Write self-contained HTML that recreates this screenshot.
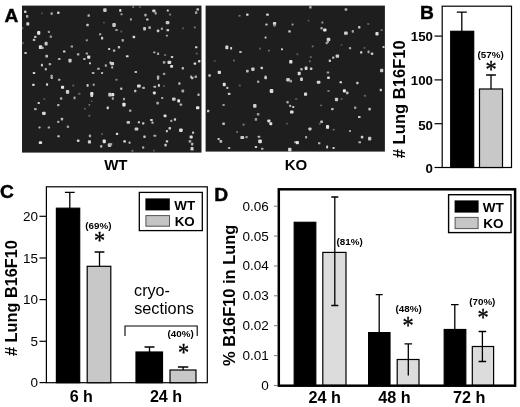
<!DOCTYPE html>
<html lang="en"><head><meta charset="utf-8"><title>Figure</title>
<style>
html,body{margin:0;padding:0;background:#fff;overflow:hidden;}
svg{display:block;will-change:transform;}
text{font-family:"Liberation Sans",Arial,Helvetica,sans-serif;fill:#000;}
.b{font-weight:bold;}
.s{font-family:"Liberation Serif","Times New Roman",serif;}
</style></head><body>
<svg width="520" height="407" viewBox="0 0 520 407">
<defs><filter id="bl" x="-5%" y="-5%" width="110%" height="110%"><feGaussianBlur stdDeviation="0.6"/></filter></defs>
<rect width="520" height="407" fill="#fff"/>
<text class="b" x="4.4" y="21.9" font-size="19.2" stroke="#000" stroke-width="0.45">A</text>
<rect x="22" y="5.6" width="179.5" height="147" fill="#1e1e1e"/>
<svg x="22" y="5.6" width="179.5" height="147" viewBox="22 5.6 179.5 147"><g filter="url(#bl)"><rect x="24.1" y="10.6" width="2.3" height="2.4" rx="0.62" fill="rgb(214,214,214)"/><rect x="26.0" y="15.1" width="2.3" height="2.7" rx="0.62" fill="rgb(179,179,179)"/><rect x="26.3" y="22.2" width="3.0" height="3.3" rx="0.82" fill="rgb(209,209,209)"/><rect x="41.1" y="12.4" width="1.7" height="1.9" rx="0.48" fill="rgb(85,85,85)"/><rect x="50.5" y="12.2" width="2.3" height="2.7" rx="0.64" fill="rgb(160,160,160)"/><rect x="57.1" y="11.6" width="2.4" height="2.3" rx="0.62" fill="rgb(212,212,212)"/><rect x="87.5" y="14.3" width="2.4" height="2.5" rx="0.67" fill="rgb(175,175,175)"/><rect x="103.2" y="8.3" width="3.4" height="3.6" rx="0.94" fill="rgb(202,202,202)"/><rect x="103.1" y="21.7" width="1.7" height="1.8" rx="0.48" fill="rgb(95,95,95)"/><rect x="86.3" y="23.7" width="2.4" height="2.6" rx="0.65" fill="rgb(196,196,196)"/><rect x="37.1" y="31.1" width="3.2" height="3.6" rx="0.89" fill="rgb(231,231,231)"/><rect x="47.9" y="30.8" width="2.1" height="2.2" rx="0.57" fill="rgb(155,155,155)"/><rect x="34.1" y="35.8" width="2.4" height="2.3" rx="0.64" fill="rgb(190,190,190)"/><rect x="49.7" y="35.4" width="2.2" height="2.4" rx="0.61" fill="rgb(165,165,165)"/><rect x="32.8" y="38.8" width="2.5" height="2.2" rx="0.60" fill="rgb(184,184,184)"/><rect x="99.0" y="33.3" width="2.3" height="1.9" rx="0.53" fill="rgb(168,168,168)"/><rect x="101.0" y="36.8" width="2.2" height="2.7" rx="0.61" fill="rgb(204,204,204)"/><rect x="85.8" y="39.3" width="2.0" height="1.9" rx="0.53" fill="rgb(155,155,155)"/><rect x="44.6" y="41.8" width="3.0" height="3.7" rx="0.83" fill="rgb(201,201,201)"/><rect x="38.9" y="45.3" width="3.3" height="3.8" rx="0.90" fill="rgb(223,223,223)"/><rect x="41.4" y="46.7" width="2.2" height="2.4" rx="0.61" fill="rgb(180,180,180)"/><rect x="70.6" y="45.4" width="2.5" height="2.1" rx="0.59" fill="rgb(166,166,166)"/><rect x="108.1" y="48.1" width="2.1" height="1.9" rx="0.53" fill="rgb(207,207,207)"/><rect x="24.3" y="52.0" width="2.5" height="2.0" rx="0.55" fill="rgb(186,186,186)"/><rect x="63.0" y="50.5" width="2.5" height="1.9" rx="0.53" fill="rgb(214,214,214)"/><rect x="76.9" y="53.3" width="2.5" height="2.1" rx="0.57" fill="rgb(179,179,179)"/><rect x="85.7" y="52.4" width="2.3" height="2.1" rx="0.57" fill="rgb(171,171,171)"/><rect x="87.1" y="55.5" width="3.2" height="3.2" rx="0.88" fill="rgb(223,223,223)"/><rect x="83.3" y="58.0" width="2.2" height="2.1" rx="0.58" fill="rgb(189,189,189)"/><rect x="45.4" y="54.8" width="2.6" height="2.8" rx="0.71" fill="rgb(193,193,193)"/><rect x="57.9" y="58.0" width="2.7" height="1.9" rx="0.53" fill="rgb(178,178,178)"/><rect x="68.4" y="58.7" width="3.2" height="3.7" rx="0.88" fill="rgb(204,204,204)"/><rect x="89.0" y="62.3" width="1.9" height="2.0" rx="0.53" fill="rgb(211,211,211)"/><rect x="40.9" y="63.8" width="2.1" height="2.6" rx="0.58" fill="rgb(197,197,197)"/><rect x="48.6" y="63.1" width="2.6" height="2.2" rx="0.62" fill="rgb(164,164,164)"/><rect x="44.8" y="68.0" width="2.0" height="2.4" rx="0.54" fill="rgb(186,186,186)"/><rect x="109.5" y="61.6" width="1.9" height="2.2" rx="0.53" fill="rgb(213,213,213)"/><rect x="104.8" y="64.3" width="2.0" height="2.4" rx="0.55" fill="rgb(172,172,172)"/><rect x="97.1" y="67.7" width="2.6" height="2.1" rx="0.57" fill="rgb(174,174,174)"/><rect x="101.0" y="71.9" width="2.1" height="2.1" rx="0.58" fill="rgb(186,186,186)"/><rect x="91.9" y="72.0" width="2.5" height="2.0" rx="0.56" fill="rgb(180,180,180)"/><rect x="32.8" y="71.9" width="2.4" height="2.2" rx="0.62" fill="rgb(216,216,216)"/><rect x="50.5" y="74.7" width="2.4" height="2.3" rx="0.63" fill="rgb(168,168,168)"/><rect x="21.7" y="27.2" width="1.8" height="2.0" rx="0.48" fill="rgb(96,96,96)"/><rect x="21.9" y="42.1" width="1.8" height="2.1" rx="0.50" fill="rgb(96,96,96)"/><rect x="119.2" y="9.1" width="2.2" height="2.7" rx="0.62" fill="rgb(217,217,217)"/><rect x="120.5" y="13.2" width="2.1" height="2.1" rx="0.57" fill="rgb(163,163,163)"/><rect x="129.9" y="18.2" width="2.0" height="2.3" rx="0.55" fill="rgb(164,164,164)"/><rect x="144.4" y="13.7" width="2.1" height="2.7" rx="0.58" fill="rgb(181,181,181)"/><rect x="146.1" y="18.4" width="2.5" height="2.0" rx="0.54" fill="rgb(207,207,207)"/><rect x="152.3" y="9.4" width="3.2" height="2.9" rx="0.79" fill="rgb(209,209,209)"/><rect x="154.6" y="12.1" width="2.1" height="2.4" rx="0.58" fill="rgb(171,171,171)"/><rect x="166.8" y="9.5" width="2.0" height="2.0" rx="0.54" fill="rgb(212,212,212)"/><rect x="169.0" y="13.6" width="2.2" height="2.0" rx="0.56" fill="rgb(124,124,124)"/><rect x="195.0" y="11.3" width="2.3" height="2.8" rx="0.64" fill="rgb(159,159,159)"/><rect x="196.4" y="8.3" width="2.6" height="2.3" rx="0.64" fill="rgb(200,200,200)"/><rect x="112.3" y="23.1" width="3.5" height="3.8" rx="0.96" fill="rgb(199,199,199)"/><rect x="115.3" y="29.1" width="2.4" height="2.0" rx="0.54" fill="rgb(163,163,163)"/><rect x="120.2" y="30.5" width="2.1" height="1.9" rx="0.51" fill="rgb(84,84,84)"/><rect x="143.1" y="27.1" width="2.9" height="3.3" rx="0.79" fill="rgb(200,200,200)"/><rect x="148.3" y="26.3" width="2.6" height="2.6" rx="0.70" fill="rgb(171,171,171)"/><rect x="156.8" y="29.6" width="2.5" height="2.7" rx="0.70" fill="rgb(200,200,200)"/><rect x="160.9" y="27.6" width="2.0" height="2.3" rx="0.54" fill="rgb(164,164,164)"/><rect x="165.7" y="21.0" width="3.7" height="3.2" rx="0.88" fill="rgb(199,199,199)"/><rect x="166.5" y="28.9" width="2.6" height="2.4" rx="0.66" fill="rgb(203,203,203)"/><rect x="165.8" y="34.7" width="2.2" height="1.9" rx="0.53" fill="rgb(164,164,164)"/><rect x="182.2" y="27.2" width="1.7" height="2.0" rx="0.48" fill="rgb(96,96,96)"/><rect x="193.8" y="26.3" width="2.1" height="2.1" rx="0.57" fill="rgb(104,104,104)"/><rect x="132.6" y="35.7" width="2.6" height="2.5" rx="0.69" fill="rgb(213,213,213)"/><rect x="121.6" y="39.0" width="2.3" height="2.7" rx="0.62" fill="rgb(165,165,165)"/><rect x="117.8" y="46.0" width="2.3" height="2.4" rx="0.64" fill="rgb(194,194,194)"/><rect x="112.9" y="49.4" width="2.4" height="2.3" rx="0.64" fill="rgb(184,184,184)"/><rect x="125.9" y="55.2" width="2.7" height="2.0" rx="0.55" fill="rgb(217,217,217)"/><rect x="153.3" y="51.4" width="2.1" height="1.9" rx="0.53" fill="rgb(193,193,193)"/><rect x="157.1" y="52.6" width="2.0" height="2.5" rx="0.55" fill="rgb(176,176,176)"/><rect x="164.0" y="54.0" width="2.1" height="1.9" rx="0.51" fill="rgb(108,108,108)"/><rect x="170.9" y="56.0" width="2.3" height="2.1" rx="0.58" fill="rgb(206,206,206)"/><rect x="195.0" y="46.2" width="2.4" height="2.1" rx="0.57" fill="rgb(210,210,210)"/><rect x="195.7" y="52.4" width="2.1" height="2.1" rx="0.57" fill="rgb(92,92,92)"/><rect x="167.5" y="60.7" width="3.7" height="3.2" rx="0.88" fill="rgb(218,218,218)"/><rect x="170.1" y="64.9" width="3.0" height="2.9" rx="0.81" fill="rgb(220,220,220)"/><rect x="162.8" y="61.0" width="2.6" height="2.7" rx="0.71" fill="rgb(163,163,163)"/><rect x="110.3" y="62.1" width="3.8" height="3.1" rx="0.85" fill="rgb(208,208,208)"/><rect x="111.2" y="66.2" width="2.0" height="2.3" rx="0.55" fill="rgb(182,182,182)"/><rect x="193.6" y="62.5" width="2.6" height="2.2" rx="0.62" fill="rgb(218,218,218)"/><rect x="198.0" y="59.9" width="2.4" height="2.5" rx="0.67" fill="rgb(212,212,212)"/><rect x="181.7" y="67.0" width="2.2" height="2.6" rx="0.59" fill="rgb(190,190,190)"/><rect x="134.5" y="71.0" width="2.6" height="1.9" rx="0.53" fill="rgb(190,190,190)"/><rect x="162.9" y="72.8" width="2.4" height="2.2" rx="0.60" fill="rgb(157,157,157)"/><rect x="156.9" y="75.6" width="2.4" height="2.3" rx="0.62" fill="rgb(179,179,179)"/><rect x="190.2" y="75.4" width="1.9" height="2.6" rx="0.53" fill="rgb(185,185,185)"/><rect x="194.5" y="75.4" width="2.5" height="2.6" rx="0.69" fill="rgb(169,169,169)"/><rect x="132.3" y="5.9" width="1.9" height="2.0" rx="0.53" fill="rgb(121,121,121)"/><rect x="138.9" y="6.0" width="2.0" height="1.9" rx="0.52" fill="rgb(84,84,84)"/><rect x="32.2" y="83.8" width="2.4" height="2.1" rx="0.57" fill="rgb(215,215,215)"/><rect x="46.0" y="83.2" width="2.1" height="2.5" rx="0.58" fill="rgb(215,215,215)"/><rect x="58.0" y="78.8" width="2.3" height="1.9" rx="0.53" fill="rgb(183,183,183)"/><rect x="61.0" y="85.7" width="3.1" height="3.1" rx="0.84" fill="rgb(231,231,231)"/><rect x="65.9" y="90.0" width="3.3" height="3.8" rx="0.91" fill="rgb(208,208,208)"/><rect x="72.3" y="84.4" width="1.9" height="2.1" rx="0.52" fill="rgb(94,94,94)"/><rect x="86.6" y="84.0" width="2.0" height="2.7" rx="0.54" fill="rgb(204,204,204)"/><rect x="92.7" y="83.6" width="2.0" height="2.3" rx="0.55" fill="rgb(155,155,155)"/><rect x="90.2" y="92.1" width="3.2" height="3.4" rx="0.87" fill="rgb(230,230,230)"/><rect x="90.5" y="94.4" width="2.5" height="2.7" rx="0.70" fill="rgb(214,214,214)"/><rect x="108.3" y="92.8" width="3.1" height="3.8" rx="0.86" fill="rgb(204,204,204)"/><rect x="59.9" y="97.2" width="2.5" height="2.6" rx="0.68" fill="rgb(170,170,170)"/><rect x="73.5" y="96.5" width="2.1" height="2.7" rx="0.57" fill="rgb(166,166,166)"/><rect x="78.2" y="92.8" width="2.2" height="2.0" rx="0.54" fill="rgb(100,100,100)"/><rect x="43.4" y="98.0" width="1.8" height="2.1" rx="0.50" fill="rgb(81,81,81)"/><rect x="37.6" y="102.1" width="2.2" height="2.0" rx="0.54" fill="rgb(211,211,211)"/><rect x="57.2" y="103.9" width="2.2" height="2.3" rx="0.60" fill="rgb(190,190,190)"/><rect x="90.8" y="100.4" width="1.9" height="1.7" rx="0.47" fill="rgb(84,84,84)"/><rect x="88.4" y="104.1" width="1.9" height="1.7" rx="0.47" fill="rgb(114,114,114)"/><rect x="84.0" y="107.7" width="1.9" height="2.1" rx="0.51" fill="rgb(88,88,88)"/><rect x="106.6" y="106.4" width="2.3" height="2.8" rx="0.63" fill="rgb(211,211,211)"/><rect x="34.0" y="107.9" width="2.7" height="2.3" rx="0.64" fill="rgb(166,166,166)"/><rect x="42.1" y="111.8" width="3.6" height="3.2" rx="0.89" fill="rgb(216,216,216)"/><rect x="88.3" y="114.8" width="2.1" height="2.0" rx="0.54" fill="rgb(90,90,90)"/><rect x="60.8" y="117.7" width="2.3" height="2.7" rx="0.64" fill="rgb(187,187,187)"/><rect x="57.2" y="120.7" width="2.1" height="2.2" rx="0.59" fill="rgb(181,181,181)"/><rect x="38.5" y="126.4" width="2.1" height="2.0" rx="0.56" fill="rgb(189,189,189)"/><rect x="47.7" y="126.4" width="2.4" height="2.1" rx="0.57" fill="rgb(169,169,169)"/><rect x="66.8" y="125.6" width="2.3" height="2.4" rx="0.63" fill="rgb(158,158,158)"/><rect x="57.4" y="135.3" width="2.3" height="1.9" rx="0.53" fill="rgb(206,206,206)"/><rect x="88.8" y="134.4" width="2.3" height="2.8" rx="0.64" fill="rgb(170,170,170)"/><rect x="101.1" y="132.9" width="1.9" height="2.0" rx="0.54" fill="rgb(84,84,84)"/><rect x="76.9" y="139.6" width="2.6" height="2.3" rx="0.64" fill="rgb(206,206,206)"/><rect x="87.9" y="140.3" width="3.1" height="3.3" rx="0.84" fill="rgb(206,206,206)"/><rect x="102.7" y="139.5" width="3.1" height="3.7" rx="0.86" fill="rgb(228,228,228)"/><rect x="38.8" y="141.2" width="3.3" height="2.9" rx="0.80" fill="rgb(224,224,224)"/><rect x="100.0" y="145.0" width="2.4" height="2.7" rx="0.66" fill="rgb(171,171,171)"/><rect x="107.8" y="143.2" width="3.5" height="3.8" rx="0.96" fill="rgb(200,200,200)"/><rect x="50.7" y="76.8" width="2.1" height="2.1" rx="0.57" fill="rgb(191,191,191)"/><rect x="111.2" y="93.1" width="3.1" height="3.2" rx="0.86" fill="rgb(229,229,229)"/><rect x="111.8" y="97.2" width="2.0" height="2.6" rx="0.55" fill="rgb(170,170,170)"/><rect x="115.4" y="78.8" width="2.1" height="2.0" rx="0.55" fill="rgb(125,125,125)"/><rect x="120.2" y="87.4" width="2.1" height="2.4" rx="0.57" fill="rgb(210,210,210)"/><rect x="123.0" y="97.8" width="1.9" height="2.5" rx="0.53" fill="rgb(175,175,175)"/><rect x="122.3" y="102.8" width="3.3" height="3.7" rx="0.92" fill="rgb(232,232,232)"/><rect x="129.0" y="109.4" width="2.4" height="2.4" rx="0.65" fill="rgb(172,172,172)"/><rect x="134.2" y="89.7" width="2.1" height="2.6" rx="0.57" fill="rgb(199,199,199)"/><rect x="137.0" y="84.4" width="3.7" height="3.1" rx="0.86" fill="rgb(218,218,218)"/><rect x="142.3" y="86.8" width="2.6" height="2.1" rx="0.57" fill="rgb(179,179,179)"/><rect x="153.5" y="85.7" width="2.6" height="2.0" rx="0.56" fill="rgb(185,185,185)"/><rect x="152.9" y="91.5" width="2.9" height="2.9" rx="0.79" fill="rgb(222,222,222)"/><rect x="157.9" y="84.1" width="2.0" height="2.6" rx="0.54" fill="rgb(208,208,208)"/><rect x="156.9" y="77.2" width="2.3" height="2.5" rx="0.64" fill="rgb(180,180,180)"/><rect x="163.1" y="85.0" width="1.9" height="2.0" rx="0.52" fill="rgb(81,81,81)"/><rect x="178.4" y="82.3" width="2.0" height="2.4" rx="0.54" fill="rgb(200,200,200)"/><rect x="181.5" y="89.6" width="2.6" height="2.8" rx="0.72" fill="rgb(169,169,169)"/><rect x="190.9" y="76.7" width="2.5" height="2.5" rx="0.68" fill="rgb(198,198,198)"/><rect x="197.4" y="93.4" width="2.3" height="2.5" rx="0.63" fill="rgb(179,179,179)"/><rect x="172.0" y="97.4" width="3.6" height="3.3" rx="0.90" fill="rgb(199,199,199)"/><rect x="177.3" y="99.2" width="2.8" height="3.4" rx="0.78" fill="rgb(230,230,230)"/><rect x="179.6" y="103.4" width="2.6" height="2.3" rx="0.64" fill="rgb(179,179,179)"/><rect x="161.2" y="96.9" width="2.0" height="2.1" rx="0.56" fill="rgb(175,175,175)"/><rect x="156.3" y="101.7" width="2.7" height="2.7" rx="0.74" fill="rgb(167,167,167)"/><rect x="196.0" y="106.3" width="3.4" height="2.9" rx="0.81" fill="rgb(227,227,227)"/><rect x="163.6" y="114.4" width="2.9" height="2.9" rx="0.79" fill="rgb(223,223,223)"/><rect x="173.8" y="118.3" width="2.3" height="2.4" rx="0.63" fill="rgb(210,210,210)"/><rect x="170.2" y="119.8" width="2.1" height="2.2" rx="0.57" fill="rgb(160,160,160)"/><rect x="150.1" y="118.9" width="2.6" height="2.1" rx="0.57" fill="rgb(213,213,213)"/><rect x="151.4" y="121.6" width="2.2" height="2.2" rx="0.60" fill="rgb(179,179,179)"/><rect x="126.6" y="120.9" width="3.4" height="2.9" rx="0.80" fill="rgb(198,198,198)"/><rect x="137.8" y="121.3" width="2.2" height="2.0" rx="0.54" fill="rgb(206,206,206)"/><rect x="142.0" y="122.3" width="2.4" height="2.1" rx="0.57" fill="rgb(198,198,198)"/><rect x="134.7" y="127.4" width="3.6" height="3.1" rx="0.84" fill="rgb(205,205,205)"/><rect x="168.5" y="127.0" width="2.5" height="2.6" rx="0.69" fill="rgb(206,206,206)"/><rect x="165.9" y="130.0" width="2.0" height="2.2" rx="0.55" fill="rgb(202,202,202)"/><rect x="179.1" y="128.4" width="3.6" height="3.6" rx="0.98" fill="rgb(223,223,223)"/><rect x="192.0" y="131.6" width="2.1" height="2.1" rx="0.57" fill="rgb(198,198,198)"/><rect x="189.6" y="135.6" width="3.1" height="2.9" rx="0.80" fill="rgb(220,220,220)"/><rect x="188.6" y="140.0" width="2.7" height="2.7" rx="0.74" fill="rgb(161,161,161)"/><rect x="191.1" y="142.8" width="2.1" height="2.8" rx="0.57" fill="rgb(193,193,193)"/><rect x="190.5" y="147.1" width="3.1" height="3.5" rx="0.86" fill="rgb(209,209,209)"/><rect x="115.9" y="132.8" width="2.3" height="2.3" rx="0.62" fill="rgb(218,218,218)"/><rect x="143.3" y="135.4" width="2.4" height="2.5" rx="0.66" fill="rgb(205,205,205)"/><rect x="153.5" y="134.8" width="2.7" height="1.9" rx="0.53" fill="rgb(168,168,168)"/><rect x="165.7" y="140.3" width="2.5" height="2.1" rx="0.59" fill="rgb(206,206,206)"/><rect x="164.4" y="143.8" width="2.3" height="2.6" rx="0.63" fill="rgb(203,203,203)"/><rect x="128.6" y="141.6" width="1.9" height="2.1" rx="0.52" fill="rgb(190,190,190)"/><rect x="123.3" y="140.2" width="2.6" height="2.4" rx="0.66" fill="rgb(220,220,220)"/><rect x="142.1" y="146.3" width="2.2" height="2.4" rx="0.61" fill="rgb(167,167,167)"/><rect x="109.8" y="142.9" width="2.4" height="2.6" rx="0.66" fill="rgb(164,164,164)"/><rect x="152.9" y="149.6" width="2.0" height="2.0" rx="0.54" fill="rgb(82,82,82)"/><rect x="131.5" y="149.7" width="1.9" height="2.2" rx="0.52" fill="rgb(104,104,104)"/></g></svg>
<rect x="205.6" y="5.6" width="179.3" height="146" fill="#1e1e1e"/>
<svg x="205.6" y="5.6" width="179.3" height="146" viewBox="205.6 5.6 179.3 146"><g filter="url(#bl)"><rect x="246.2" y="13.6" width="2.3" height="2.1" rx="0.56" fill="rgb(218,218,218)"/><rect x="238.5" y="14.7" width="2.0" height="2.0" rx="0.54" fill="rgb(107,107,107)"/><rect x="266.1" y="13.5" width="2.7" height="2.3" rx="0.63" fill="rgb(206,206,206)"/><rect x="265.3" y="23.4" width="2.4" height="2.2" rx="0.61" fill="rgb(191,191,191)"/><rect x="272.9" y="22.0" width="3.3" height="3.1" rx="0.84" fill="rgb(216,216,216)"/><rect x="273.3" y="24.0" width="2.4" height="2.6" rx="0.67" fill="rgb(158,158,158)"/><rect x="291.6" y="23.4" width="1.9" height="2.1" rx="0.53" fill="rgb(160,160,160)"/><rect x="288.3" y="30.3" width="2.4" height="2.3" rx="0.62" fill="rgb(204,204,204)"/><rect x="264.6" y="36.4" width="1.9" height="2.2" rx="0.53" fill="rgb(205,205,205)"/><rect x="225.4" y="45.5" width="2.9" height="3.8" rx="0.78" fill="rgb(218,218,218)"/><rect x="230.1" y="46.9" width="2.0" height="2.7" rx="0.54" fill="rgb(209,209,209)"/><rect x="239.2" y="51.0" width="2.5" height="2.1" rx="0.58" fill="rgb(186,186,186)"/><rect x="281.0" y="48.3" width="1.9" height="2.0" rx="0.53" fill="rgb(214,214,214)"/><rect x="259.1" y="47.6" width="1.8" height="2.2" rx="0.49" fill="rgb(95,95,95)"/><rect x="267.9" y="49.7" width="2.0" height="1.8" rx="0.48" fill="rgb(119,119,119)"/><rect x="213.8" y="59.9" width="1.9" height="1.8" rx="0.48" fill="rgb(83,83,83)"/><rect x="233.0" y="59.6" width="1.9" height="1.8" rx="0.49" fill="rgb(103,103,103)"/><rect x="289.2" y="60.1" width="3.2" height="3.5" rx="0.89" fill="rgb(227,227,227)"/><rect x="260.6" y="66.7" width="2.4" height="2.5" rx="0.65" fill="rgb(208,208,208)"/><rect x="251.3" y="67.4" width="3.2" height="3.5" rx="0.87" fill="rgb(206,206,206)"/><rect x="246.0" y="69.8" width="2.7" height="2.6" rx="0.70" fill="rgb(185,185,185)"/><rect x="217.7" y="70.7" width="3.3" height="3.3" rx="0.90" fill="rgb(217,217,217)"/><rect x="208.3" y="74.2" width="2.5" height="2.5" rx="0.68" fill="rgb(200,200,200)"/><rect x="264.5" y="75.5" width="2.1" height="2.4" rx="0.58" fill="rgb(179,179,179)"/><rect x="309.2" y="6.0" width="2.4" height="2.6" rx="0.66" fill="rgb(179,179,179)"/><rect x="344.6" y="8.3" width="2.7" height="2.4" rx="0.65" fill="rgb(180,180,180)"/><rect x="307.5" y="19.8" width="2.1" height="1.7" rx="0.47" fill="rgb(83,83,83)"/><rect x="321.4" y="21.5" width="1.9" height="2.1" rx="0.52" fill="rgb(158,158,158)"/><rect x="323.1" y="28.6" width="3.4" height="2.9" rx="0.80" fill="rgb(232,232,232)"/><rect x="320.5" y="26.9" width="2.1" height="2.6" rx="0.58" fill="rgb(175,175,175)"/><rect x="358.1" y="26.1" width="2.3" height="2.5" rx="0.64" fill="rgb(202,202,202)"/><rect x="367.3" y="23.0" width="1.9" height="1.9" rx="0.52" fill="rgb(101,101,101)"/><rect x="351.7" y="30.1" width="2.2" height="2.6" rx="0.60" fill="rgb(164,164,164)"/><rect x="344.1" y="31.6" width="3.6" height="3.2" rx="0.89" fill="rgb(211,211,211)"/><rect x="375.4" y="32.0" width="3.2" height="3.5" rx="0.89" fill="rgb(222,222,222)"/><rect x="380.6" y="29.2" width="2.1" height="1.9" rx="0.52" fill="rgb(121,121,121)"/><rect x="326.7" y="37.7" width="3.6" height="3.4" rx="0.93" fill="rgb(216,216,216)"/><rect x="326.8" y="40.1" width="2.3" height="2.6" rx="0.64" fill="rgb(178,178,178)"/><rect x="325.6" y="42.0" width="2.2" height="2.2" rx="0.61" fill="rgb(167,167,167)"/><rect x="348.9" y="47.1" width="2.3" height="2.2" rx="0.60" fill="rgb(165,165,165)"/><rect x="360.1" y="51.2" width="2.2" height="2.4" rx="0.62" fill="rgb(214,214,214)"/><rect x="363.6" y="46.8" width="1.8" height="2.1" rx="0.51" fill="rgb(84,84,84)"/><rect x="367.5" y="50.5" width="2.1" height="2.7" rx="0.59" fill="rgb(165,165,165)"/><rect x="370.8" y="52.6" width="2.5" height="2.3" rx="0.64" fill="rgb(196,196,196)"/><rect x="382.5" y="45.9" width="2.1" height="2.0" rx="0.56" fill="rgb(200,200,200)"/><rect x="335.6" y="54.6" width="3.5" height="3.1" rx="0.86" fill="rgb(205,205,205)"/><rect x="332.1" y="56.4" width="2.2" height="2.3" rx="0.59" fill="rgb(190,190,190)"/><rect x="328.7" y="59.5" width="2.3" height="2.6" rx="0.62" fill="rgb(194,194,194)"/><rect x="309.8" y="56.2" width="1.9" height="1.8" rx="0.50" fill="rgb(113,113,113)"/><rect x="309.0" y="60.3" width="1.8" height="1.9" rx="0.50" fill="rgb(103,103,103)"/><rect x="304.7" y="66.6" width="2.8" height="3.5" rx="0.78" fill="rgb(222,222,222)"/><rect x="309.9" y="67.4" width="2.5" height="2.6" rx="0.70" fill="rgb(202,202,202)"/><rect x="300.2" y="68.0" width="2.5" height="2.4" rx="0.66" fill="rgb(177,177,177)"/><rect x="297.7" y="71.7" width="3.0" height="3.6" rx="0.82" fill="rgb(216,216,216)"/><rect x="326.7" y="71.4" width="2.5" height="2.1" rx="0.58" fill="rgb(162,162,162)"/><rect x="380.0" y="68.8" width="3.3" height="3.4" rx="0.92" fill="rgb(199,199,199)"/><rect x="296.4" y="53.2" width="2.0" height="2.1" rx="0.56" fill="rgb(84,84,84)"/><rect x="311.7" y="45.4" width="2.0" height="1.9" rx="0.51" fill="rgb(114,114,114)"/><rect x="340.7" y="44.1" width="1.7" height="1.7" rx="0.48" fill="rgb(86,86,86)"/><rect x="327.2" y="76.6" width="2.6" height="2.0" rx="0.54" fill="rgb(173,173,173)"/><rect x="222.8" y="82.7" width="2.9" height="3.6" rx="0.80" fill="rgb(225,225,225)"/><rect x="226.3" y="86.8" width="2.1" height="2.1" rx="0.58" fill="rgb(198,198,198)"/><rect x="227.9" y="92.7" width="2.5" height="2.3" rx="0.62" fill="rgb(198,198,198)"/><rect x="238.7" y="84.5" width="2.1" height="1.9" rx="0.51" fill="rgb(88,88,88)"/><rect x="257.0" y="80.5" width="2.3" height="2.4" rx="0.63" fill="rgb(164,164,164)"/><rect x="264.4" y="76.5" width="2.5" height="2.7" rx="0.68" fill="rgb(207,207,207)"/><rect x="269.7" y="89.1" width="3.6" height="3.8" rx="0.98" fill="rgb(220,220,220)"/><rect x="286.2" y="78.0" width="3.7" height="3.6" rx="0.99" fill="rgb(203,203,203)"/><rect x="289.5" y="79.7" width="2.6" height="2.8" rx="0.72" fill="rgb(158,158,158)"/><rect x="286.4" y="100.9" width="2.3" height="2.5" rx="0.64" fill="rgb(169,169,169)"/><rect x="289.1" y="104.8" width="2.2" height="2.3" rx="0.62" fill="rgb(173,173,173)"/><rect x="292.2" y="105.9" width="2.1" height="2.0" rx="0.56" fill="rgb(203,203,203)"/><rect x="290.0" y="110.5" width="3.5" height="3.1" rx="0.86" fill="rgb(222,222,222)"/><rect x="222.5" y="103.9" width="2.2" height="2.2" rx="0.59" fill="rgb(162,162,162)"/><rect x="207.0" y="109.7" width="2.3" height="2.6" rx="0.63" fill="rgb(193,193,193)"/><rect x="253.1" y="104.1" width="3.4" height="3.6" rx="0.95" fill="rgb(209,209,209)"/><rect x="256.8" y="113.0" width="2.6" height="2.6" rx="0.71" fill="rgb(157,157,157)"/><rect x="254.7" y="118.1" width="2.4" height="2.7" rx="0.65" fill="rgb(159,159,159)"/><rect x="267.3" y="119.4" width="3.1" height="3.0" rx="0.82" fill="rgb(220,220,220)"/><rect x="269.3" y="122.2" width="3.0" height="3.0" rx="0.83" fill="rgb(228,228,228)"/><rect x="286.0" y="122.8" width="2.0" height="1.8" rx="0.50" fill="rgb(91,91,91)"/><rect x="222.3" y="122.6" width="2.6" height="2.3" rx="0.62" fill="rgb(194,194,194)"/><rect x="242.6" y="123.5" width="2.0" height="2.2" rx="0.55" fill="rgb(115,115,115)"/><rect x="236.2" y="131.1" width="1.9" height="1.8" rx="0.50" fill="rgb(105,105,105)"/><rect x="240.4" y="136.0" width="3.7" height="3.1" rx="0.86" fill="rgb(203,203,203)"/><rect x="245.4" y="136.1" width="2.3" height="2.1" rx="0.58" fill="rgb(161,161,161)"/><rect x="217.6" y="138.0" width="2.1" height="2.0" rx="0.56" fill="rgb(204,204,204)"/><rect x="219.5" y="140.1" width="2.7" height="2.6" rx="0.72" fill="rgb(190,190,190)"/><rect x="257.7" y="135.7" width="2.5" height="2.0" rx="0.54" fill="rgb(185,185,185)"/><rect x="258.2" y="139.6" width="3.7" height="3.7" rx="1.01" fill="rgb(221,221,221)"/><rect x="254.8" y="145.9" width="2.3" height="2.1" rx="0.58" fill="rgb(208,208,208)"/><rect x="261.0" y="147.8" width="2.4" height="2.0" rx="0.56" fill="rgb(175,175,175)"/><rect x="227.9" y="146.9" width="2.5" height="2.0" rx="0.56" fill="rgb(171,171,171)"/><rect x="288.1" y="147.7" width="3.4" height="3.8" rx="0.95" fill="rgb(215,215,215)"/><rect x="294.2" y="141.3" width="2.3" height="1.9" rx="0.54" fill="rgb(177,177,177)"/><rect x="300.1" y="77.4" width="2.8" height="3.6" rx="0.77" fill="rgb(207,207,207)"/><rect x="316.8" y="80.8" width="3.6" height="2.9" rx="0.79" fill="rgb(215,215,215)"/><rect x="327.3" y="76.7" width="2.4" height="2.4" rx="0.65" fill="rgb(216,216,216)"/><rect x="339.5" y="81.2" width="2.5" height="2.0" rx="0.54" fill="rgb(219,219,219)"/><rect x="356.3" y="81.7" width="2.1" height="2.6" rx="0.59" fill="rgb(208,208,208)"/><rect x="379.8" y="88.8" width="2.1" height="2.5" rx="0.56" fill="rgb(211,211,211)"/><rect x="342.9" y="89.3" width="3.0" height="3.3" rx="0.83" fill="rgb(231,231,231)"/><rect x="346.1" y="91.5" width="2.3" height="2.8" rx="0.63" fill="rgb(194,194,194)"/><rect x="304.0" y="92.6" width="3.1" height="3.2" rx="0.86" fill="rgb(217,217,217)"/><rect x="295.1" y="98.0" width="2.2" height="2.0" rx="0.56" fill="rgb(84,84,84)"/><rect x="334.9" y="97.7" width="3.2" height="3.5" rx="0.87" fill="rgb(204,204,204)"/><rect x="340.6" y="98.0" width="2.0" height="2.0" rx="0.56" fill="rgb(87,87,87)"/><rect x="320.1" y="104.5" width="2.0" height="1.7" rx="0.47" fill="rgb(104,104,104)"/><rect x="331.1" y="107.9" width="2.5" height="2.3" rx="0.64" fill="rgb(192,192,192)"/><rect x="354.0" y="106.6" width="2.4" height="2.3" rx="0.64" fill="rgb(156,156,156)"/><rect x="368.3" y="107.8" width="2.6" height="2.7" rx="0.71" fill="rgb(181,181,181)"/><rect x="358.0" y="116.1" width="2.6" height="2.0" rx="0.56" fill="rgb(203,203,203)"/><rect x="320.3" y="120.5" width="2.6" height="2.6" rx="0.71" fill="rgb(198,198,198)"/><rect x="318.8" y="122.7" width="2.1" height="2.0" rx="0.54" fill="rgb(85,85,85)"/><rect x="308.4" y="127.4" width="3.1" height="3.0" rx="0.82" fill="rgb(205,205,205)"/><rect x="326.0" y="125.1" width="3.1" height="3.7" rx="0.86" fill="rgb(228,228,228)"/><rect x="332.6" y="128.7" width="2.1" height="1.9" rx="0.51" fill="rgb(104,104,104)"/><rect x="349.0" y="130.1" width="2.0" height="2.0" rx="0.54" fill="rgb(167,167,167)"/><rect x="305.1" y="135.9" width="2.0" height="2.5" rx="0.55" fill="rgb(177,177,177)"/><rect x="295.9" y="141.1" width="3.0" height="3.2" rx="0.82" fill="rgb(227,227,227)"/><rect x="318.0" y="142.2" width="2.4" height="2.0" rx="0.54" fill="rgb(184,184,184)"/><rect x="326.2" y="145.6" width="1.9" height="2.8" rx="0.53" fill="rgb(210,210,210)"/><rect x="332.5" y="146.9" width="2.2" height="2.0" rx="0.54" fill="rgb(209,209,209)"/><rect x="358.4" y="141.3" width="2.6" height="2.0" rx="0.56" fill="rgb(181,181,181)"/><rect x="360.8" y="135.8" width="2.5" height="2.6" rx="0.69" fill="rgb(204,204,204)"/><rect x="368.0" y="136.7" width="3.3" height="3.7" rx="0.90" fill="rgb(198,198,198)"/><rect x="363.9" y="94.7" width="2.1" height="2.0" rx="0.55" fill="rgb(100,100,100)"/><rect x="327.4" y="90.0" width="2.2" height="2.1" rx="0.58" fill="rgb(122,122,122)"/></g></svg>
<text class="b" x="115.8" y="170" font-size="15" text-anchor="middle">WT</text>
<text class="b" x="296" y="170" font-size="15" text-anchor="middle">KO</text>
<text class="b" x="420" y="18.8" font-size="19.2" stroke="#000" stroke-width="0.45">B</text>
<rect x="442.2" y="6.2" width="69.3" height="161.3" fill="#fff" stroke="#000" stroke-width="1.2"/>
<path d="M434.5 167.5H442" stroke="#000" stroke-width="1.2"/>
<text class="b" x="433" y="173.2" font-size="13.3" text-anchor="end">0</text>
<path d="M434.5 123.7H442" stroke="#000" stroke-width="1.2"/>
<text class="b" x="433" y="130.1" font-size="13.3" text-anchor="end">50</text>
<path d="M434.5 79.9H442" stroke="#000" stroke-width="1.2"/>
<text class="b" x="433" y="84.7" font-size="13.3" text-anchor="end">100</text>
<path d="M434.5 36.1H442" stroke="#000" stroke-width="1.2"/>
<text class="b" x="433" y="40.9" font-size="13.3" text-anchor="end">150</text>
<path d="M461.8 12.2V32M456.8 12.2H466.8" stroke="#000" stroke-width="1.3" fill="none"/>
<rect x="450.7" y="31.3" width="23.0" height="136.2" fill="#000" stroke="#000" stroke-width="1.2"/>
<path d="M491 75V89.5M486.1 75H495.9" stroke="#000" stroke-width="1.3" fill="none"/>
<rect x="479.5" y="89" width="23.0" height="78.5" fill="#c8c8c8" stroke="#000" stroke-width="1.2"/>
<text class="b" x="490.6" y="58" font-size="9.8" text-anchor="middle">(57%)</text>
<text class="s" transform="translate(491.1,66) scale(0.93,1.06)" x="0" y="11.0" font-size="24" text-anchor="middle" stroke="#000" stroke-width="0.35">*</text>
<text class="b" transform="translate(405,99.2) rotate(-90)" font-size="16.6" text-anchor="middle"># Lung B16F10</text>
<text class="b" x="0" y="198.4" font-size="19.2" stroke="#000" stroke-width="0.45">C</text>
<rect x="46.4" y="186.8" width="160.9" height="195.9" fill="#fff" stroke="#000" stroke-width="1.2"/>
<path d="M39.5 382.6H46.5" stroke="#000" stroke-width="1.2"/>
<text x="38" y="387.40000000000003" font-size="13.5" text-anchor="end">0</text>
<path d="M39.5 341.3H46.5" stroke="#000" stroke-width="1.2"/>
<text x="38" y="346.1" font-size="13.5" text-anchor="end">5</text>
<path d="M39.5 299.6H46.5" stroke="#000" stroke-width="1.2"/>
<text x="38" y="304.40000000000003" font-size="13.5" text-anchor="end">10</text>
<path d="M39.5 258H46.5" stroke="#000" stroke-width="1.2"/>
<text x="38" y="262.8" font-size="13.5" text-anchor="end">15</text>
<path d="M39.5 216.3H46.5" stroke="#000" stroke-width="1.2"/>
<text x="38" y="221.10000000000002" font-size="13.5" text-anchor="end">20</text>
<path d="M69.8 192.4V209M64.89999999999999 192.4H74.7" stroke="#000" stroke-width="1.3" fill="none"/>
<rect x="56.4" y="208.2" width="23.300000000000004" height="174.5" fill="#000" stroke="#000" stroke-width="1.2"/>
<path d="M99.5 252V266.5M94.6 252H104.4" stroke="#000" stroke-width="1.3" fill="none"/>
<rect x="87.2" y="266.3" width="23.599999999999994" height="116.39999999999998" fill="#c8c8c8" stroke="#000" stroke-width="1.2"/>
<path d="M149.5 347V352.5M144.5 347H154.5" stroke="#000" stroke-width="1.3" fill="none"/>
<rect x="136" y="352" width="26.5" height="30.69999999999999" fill="#000" stroke="#000" stroke-width="1.2"/>
<path d="M183.1 367V370.5M177.9 367H188.29999999999998" stroke="#000" stroke-width="1.3" fill="none"/>
<rect x="170" y="370" width="26" height="12.699999999999989" fill="#c8c8c8" stroke="#000" stroke-width="1.2"/>
<text class="b" x="98.4" y="228.6" font-size="9.8" text-anchor="middle">(69%)</text>
<text class="s" transform="translate(99.6,237.1) scale(0.93,1.06)" x="0" y="11.0" font-size="24" text-anchor="middle" stroke="#000" stroke-width="0.35">*</text>
<text x="152" y="295.5" font-size="16.1" text-anchor="middle">cryo-</text>
<text x="164" y="313.5" font-size="16.3" text-anchor="middle">sections</text>
<path d="M125 336V326H197.2V336" stroke="#000" stroke-width="1.1" fill="none"/>
<text class="b" x="180.6" y="336.8" font-size="9.8" text-anchor="middle">(40%)</text>
<text class="s" transform="translate(183.6,349) scale(0.93,1.06)" x="0" y="11.0" font-size="24" text-anchor="middle" stroke="#000" stroke-width="0.35">*</text>
<text class="b" x="81.3" y="402.4" font-size="16.1" text-anchor="middle">6 h</text>
<text class="b" x="166" y="402.4" font-size="16.1" text-anchor="middle">24 h</text>
<text class="b" transform="translate(16.6,298.1) rotate(-90)" font-size="16.3" text-anchor="middle"># Lung B16F10</text>
<rect x="139.3" y="192.4" width="63" height="38.2" fill="#fff" stroke="#000" stroke-width="1.3"/>
<rect x="145.4" y="198.4" width="24.4" height="12" fill="#000"/>
<rect x="145.9" y="215.6" width="23.6" height="10.6" fill="#c4c4c4" stroke="#555" stroke-width="1"/>
<text class="b" x="174.3" y="209.5" font-size="13.4">WT</text>
<text class="b" x="174.7" y="225.9" font-size="13.4">KO</text>
<text class="b" x="214.3" y="200.9" font-size="19.2" stroke="#000" stroke-width="0.45">D</text>
<rect x="278.8" y="189.3" width="236.3" height="196.4" fill="#fff" stroke="#000" stroke-width="2.5"/>
<path d="M274 385.5H278" stroke="#777" stroke-width="1"/>
<text x="268.8" y="389.9" font-size="13.5" text-anchor="end">0</text>
<path d="M274 355.6H278" stroke="#777" stroke-width="1"/>
<text x="268.8" y="360.0" font-size="13.5" text-anchor="end">0.01</text>
<path d="M274 325.7H278" stroke="#777" stroke-width="1"/>
<text x="268.8" y="330.09999999999997" font-size="13.5" text-anchor="end">0.02</text>
<path d="M274 295.8H278" stroke="#777" stroke-width="1"/>
<text x="268.8" y="300.2" font-size="13.5" text-anchor="end">0.03</text>
<path d="M274 266H278" stroke="#777" stroke-width="1"/>
<text x="268.8" y="270.4" font-size="13.5" text-anchor="end">0.04</text>
<path d="M274 236.1H278" stroke="#777" stroke-width="1"/>
<text x="268.8" y="240.5" font-size="13.5" text-anchor="end">0.05</text>
<path d="M274 206.2H278" stroke="#777" stroke-width="1"/>
<text x="268.8" y="210.6" font-size="13.5" text-anchor="end">0.06</text>
<rect x="294.2" y="222.3" width="21.600000000000023" height="162.7" fill="#000" stroke="#000" stroke-width="1.2"/>
<rect x="322.8" y="252.4" width="23.19999999999999" height="132.6" fill="#dcdcdc" stroke="#000" stroke-width="1.2"/>
<path d="M334.8 197V305.5M331.3 197H338.3M331.3 305.5H338.3" stroke="#000" stroke-width="1.3" fill="none"/>
<path d="M379.2 294.6V333M375.7 294.6H382.7" stroke="#000" stroke-width="1.3" fill="none"/>
<rect x="368.6" y="332.6" width="21.399999999999977" height="52.39999999999998" fill="#000" stroke="#000" stroke-width="1.2"/>
<rect x="397.2" y="359.5" width="21.80000000000001" height="25.5" fill="#dcdcdc" stroke="#000" stroke-width="1.2"/>
<path d="M408.3 343.8V375.6M404.5 343.8H412.1" stroke="#000" stroke-width="1.3" fill="none"/>
<path d="M454.8 304.6V330M451.0 304.6H458.6" stroke="#000" stroke-width="1.3" fill="none"/>
<rect x="444.2" y="329.5" width="21.600000000000023" height="55.5" fill="#000" stroke="#000" stroke-width="1.2"/>
<rect x="472.3" y="346.5" width="21.30000000000001" height="38.5" fill="#dcdcdc" stroke="#000" stroke-width="1.2"/>
<path d="M482.4 331.5V361.5M478.59999999999997 331.5H486.2M478.59999999999997 361.5H486.2" stroke="#000" stroke-width="1.3" fill="none"/>
<text class="b" x="349.6" y="244.7" font-size="9.8" text-anchor="middle">(81%)</text>
<text class="b" x="408.6" y="311.6" font-size="9.8" text-anchor="middle">(48%)</text>
<text class="s" transform="translate(408,322.6) scale(0.93,1.06)" x="0" y="11.0" font-size="24" text-anchor="middle" stroke="#000" stroke-width="0.35">*</text>
<text class="b" x="482.3" y="304.6" font-size="9.8" text-anchor="middle">(70%)</text>
<text class="s" transform="translate(483,314) scale(0.93,1.06)" x="0" y="11.0" font-size="24" text-anchor="middle" stroke="#000" stroke-width="0.35">*</text>
<text class="b" x="324.7" y="403" font-size="16.2" text-anchor="middle">24 h</text>
<text class="b" x="394.5" y="403" font-size="16.2" text-anchor="middle">48 h</text>
<text class="b" x="469.2" y="403" font-size="16.2" text-anchor="middle">72 h</text>
<text class="b" transform="translate(235,295.4) rotate(-90)" font-size="16.4" text-anchor="middle">% B16F10 in Lung</text>
<rect x="448.6" y="194.7" width="62.4" height="37.9" fill="#fff" stroke="#000" stroke-width="1.4"/>
<rect x="454.6" y="200.4" width="24" height="12.2" fill="#000"/>
<rect x="455.1" y="217.4" width="23" height="11.2" fill="#c6c6c6" stroke="#555" stroke-width="1"/>
<text class="b" x="482.8" y="211.6" font-size="13.5">WT</text>
<text class="b" x="483.3" y="227.6" font-size="13.5">KO</text>
</svg></body></html>
